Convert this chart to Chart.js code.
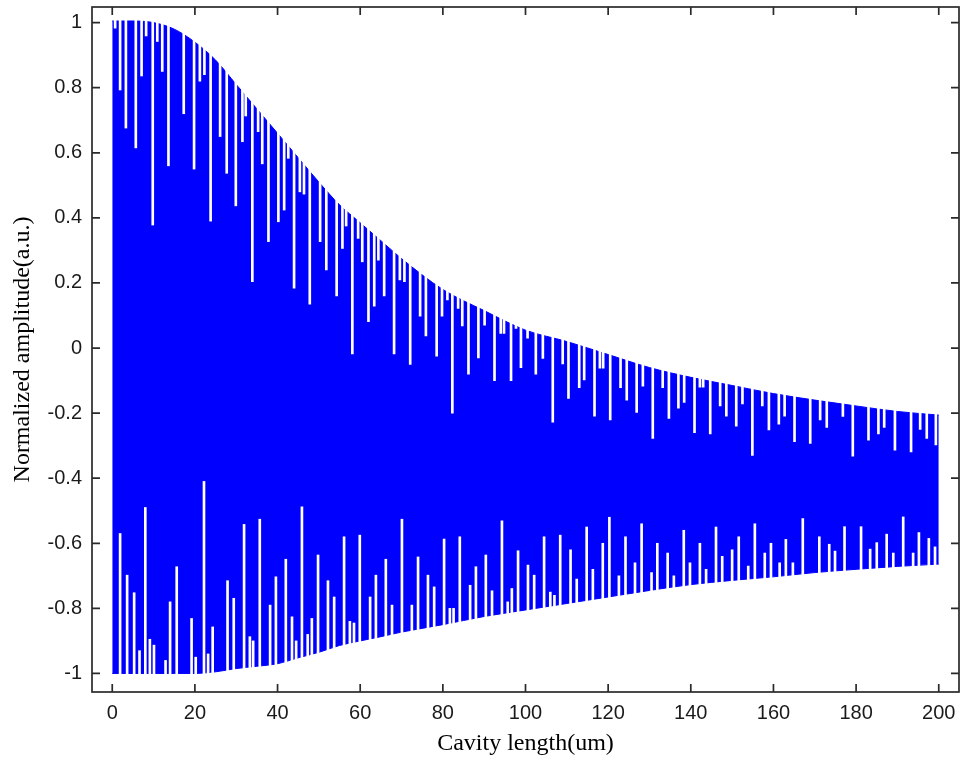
<!DOCTYPE html>
<html>
<head>
<meta charset="utf-8">
<script src="https://cdn.jsdelivr.net/npm/chart.js@4.4.1/dist/chart.umd.min.js"></script>
<style>
  html, body { margin: 0; padding: 0; background: #fff; }
  #wrap { width: 960px; height: 761px; }
</style>
</head>
<body>
<div id="wrap"><canvas id="myChart" width="960" height="761"></canvas></div>
<script>
// envelope of the fast oscillation
var envX = [0, 5, 10, 15, 20, 25, 30, 35, 40, 45, 50, 55, 60, 65, 70, 80, 90, 100, 110, 120, 130, 140, 150, 160, 170, 180, 190, 200];
var upperEnv = [1.005, 1.005, 1.0, 0.98, 0.94, 0.885, 0.81, 0.735, 0.66, 0.585, 0.51, 0.44, 0.385, 0.33, 0.275, 0.18, 0.115, 0.055, 0.02, -0.02, -0.06, -0.09, -0.115, -0.14, -0.16, -0.178, -0.195, -0.206];
var lowerEnv = [-1.0, -1.0, -1.0, -1.0, -1.0, -0.995, -0.985, -0.978, -0.97, -0.952, -0.935, -0.914, -0.9, -0.887, -0.873, -0.85, -0.825, -0.805, -0.785, -0.765, -0.745, -0.727, -0.714, -0.703, -0.69, -0.68, -0.671, -0.664];

// white gaps hanging down from the upper edge: position and lowest value
var topGapX = [0.7, 1.9, 3.3, 5.7, 7.1, 8.2, 9.8, 10.9, 12.1, 13.6, 17.3, 19.8, 21.2, 22.3, 23.8, 26.1, 27.7, 29.9, 31.5, 32.3, 33.9, 35.3, 36.3, 37.8, 40.2, 41.6, 42.6, 44.0, 45.4, 46.4, 47.8, 50.3, 51.8, 54.3, 55.7, 56.6, 58.1, 59.5, 60.5, 62.0, 63.4, 64.4, 65.8, 68.2, 69.6, 70.7, 72.1, 74.5, 75.9, 78.5, 79.8, 81.1, 82.3, 83.7, 84.7, 86.2, 88.6, 90.1, 92.5, 94.0, 94.8, 96.5, 97.7, 98.9, 100.5, 102.5, 104.2, 106.6, 109, 110.4, 113, 114.2, 116.7, 118, 118.8, 120.5, 123, 124.5, 126.9, 128.4, 130.8, 133.2, 134.7, 137, 138.4, 140.9, 142.2, 143.0, 144.7, 147.1, 148.6, 151, 152.5, 154.9, 157.3, 158.9, 161.3, 162.7, 165.1, 168.9, 171.3, 172.9, 176.8, 179.2, 183, 185.4, 186.8, 189.4, 193.3, 195.5, 197.1, 199.3];
var topGapTip = [0.983, 0.793, 0.676, 0.615, 0.836, 0.959, 0.378, 0.942, 0.85, 0.56, 0.72, 0.55, 0.82, 0.84, 0.39, 0.65, 0.537, 0.437, 0.634, 0.713, 0.204, 0.665, 0.566, 0.327, 0.388, 0.424, 0.583, 0.184, 0.48, 0.473, 0.135, 0.327, 0.24, 0.16, 0.306, 0.375, -0.018, 0.337, 0.265, 0.081, 0.129, 0.27, 0.16, -0.018, 0.209, 0.204, -0.05, 0.098, 0.037, -0.025, 0.098, 0.148, -0.2, 0.122, 0.068, -0.08, -0.03, 0.07, -0.1, 0.045, 0.045, -0.1, 0.06, -0.06, 0.03, -0.08, -0.032, -0.228, -0.049, -0.155, -0.122, -0.098, -0.209, -0.062, -0.062, -0.221, -0.122, -0.16, -0.198, -0.117, -0.278, -0.122, -0.216, -0.185, -0.167, -0.26, -0.12, -0.12, -0.264, -0.178, -0.209, -0.24, -0.172, -0.33, -0.178, -0.252, -0.234, -0.209, -0.288, -0.293, -0.221, -0.244, -0.21, -0.332, -0.283, -0.264, -0.244, -0.314, -0.319, -0.25, -0.278, -0.298];

// white gaps rising from the lower edge: position and highest value
var botGapX = [1.9, 3.6, 5.3, 6.6, 8.0, 9.1, 10.1, 12.9, 14.0, 15.6, 19.2, 20.2, 22.2, 23.2, 24.3, 27.9, 29.4, 31.9, 33.3, 34.1, 35.7, 38.2, 39.6, 42, 43.5, 44.5, 45.9, 47.3, 48.3, 49.8, 52.2, 53.7, 56.1, 57.5, 58.5, 59.9, 62.4, 63.8, 66.2, 67.7, 70.1, 72.5, 74, 76.4, 77.9, 80.3, 81.7, 82.6, 84.1, 86.6, 88, 90.4, 91.9, 94.3, 95.7, 96.7, 98.2, 100.6, 102.1, 104.5, 106, 107, 108.4, 110.9, 112.4, 114.8, 116.3, 118.7, 120.3, 122.6, 124.2, 126.5, 128.1, 130.5, 131.9, 134.4, 135.9, 138.3, 139.8, 142.2, 143.7, 146.1, 147.6, 150.0, 151.6, 153.9, 155.5, 157.9, 159.4, 161.5, 163, 164.7, 167.1, 171.1, 173.5, 174.9, 177.2, 181.2, 183.4, 185, 187.4, 189, 191.4, 193.8, 195.2, 197.6, 199.1];
var botGapTip = [-0.57, -0.698, -0.752, -0.93, -0.49, -0.895, -0.913, -0.96, -0.78, -0.672, -0.831, -0.95, -0.41, -0.94, -0.857, -0.715, -0.769, -0.542, -0.887, -0.9, -0.526, -0.79, -0.703, -0.649, -0.826, -0.9, -0.488, -0.88, -0.831, -0.636, -0.715, -0.765, -0.58, -0.84, -0.845, -0.575, -0.765, -0.698, -0.649, -0.79, -0.526, -0.79, -0.642, -0.698, -0.734, -0.587, -0.8, -0.8, -0.58, -0.729, -0.672, -0.636, -0.746, -0.531, -0.78, -0.739, -0.623, -0.667, -0.698, -0.58, -0.75, -0.76, -0.575, -0.62, -0.71, -0.55, -0.68, -0.6, -0.52, -0.7, -0.58, -0.66, -0.54, -0.69, -0.6, -0.63, -0.7, -0.56, -0.66, -0.6, -0.68, -0.55, -0.64, -0.62, -0.58, -0.67, -0.54, -0.63, -0.6, -0.66, -0.588, -0.66, -0.524, -0.58, -0.603, -0.624, -0.549, -0.549, -0.618, -0.598, -0.572, -0.63, -0.519, -0.63, -0.567, -0.585, -0.611];

var xTicks = [0, 20, 40, 60, 80, 100, 120, 140, 160, 180, 200];
var yTicks = [-1, -0.8, -0.6, -0.4, -0.2, 0, 0.2, 0.4, 0.6, 0.8, 1];

var blue = '#0000ff';

function pairs(xs, ys) {
    return xs.map(function (x, i) { return { x: x, y: ys[i] }; });
}

// keep the plot box where the original has it
function fixBox(size) {
    return function (s) {
        if (s.isHorizontal()) s.height = size; else s.width = size;
        s.paddingTop = 0; s.paddingBottom = 0;
        s.paddingLeft = 0; s.paddingRight = 0;
    };
}

// box with inward ticks on all four sides, like the original figure
var framePlugin = {
    id: 'frame',
    afterDatasetsDraw: function (chart) {
        var ctx = chart.ctx;
        var a = chart.chartArea;
        var xs = chart.scales.x;
        var ys = chart.scales.y;
        var len = 8;
        ctx.save();
        ctx.strokeStyle = '#2a2a2a';
        ctx.lineWidth = 1.7;
        ctx.strokeRect(a.left, a.top, a.right - a.left, a.bottom - a.top);
        ctx.beginPath();
        xTicks.forEach(function (v) {
            var p = xs.getPixelForValue(v);
            ctx.moveTo(p, a.bottom); ctx.lineTo(p, a.bottom - len);
            ctx.moveTo(p, a.top); ctx.lineTo(p, a.top + len);
        });
        yTicks.forEach(function (v) {
            var p = ys.getPixelForValue(v);
            ctx.moveTo(a.left, p); ctx.lineTo(a.left + len, p);
            ctx.moveTo(a.right, p); ctx.lineTo(a.right - len, p);
        });
        ctx.stroke();
        ctx.restore();
    }
};

var ctx = document.getElementById('myChart').getContext('2d');
var chart = new Chart(ctx, {
    type: 'line',
    data: {
        datasets: [
            {
                type: 'line',
                label: 'lower',
                data: pairs(envX, lowerEnv),
                borderColor: blue,
                borderWidth: 1,
                pointRadius: 0,
                cubicInterpolationMode: 'monotone',
                fill: false,
                order: 2
            },
            {
                type: 'line',
                label: 'upper',
                data: pairs(envX, upperEnv),
                borderColor: blue,
                backgroundColor: blue,
                borderWidth: 1,
                pointRadius: 0,
                cubicInterpolationMode: 'monotone',
                fill: '-1',
                order: 2
            },
            {
                type: 'bar',
                label: 'top gaps',
                data: topGapX.map(function (x, i) { return { x: x, y: [topGapTip[i], 1.04] }; }),
                backgroundColor: '#ffffff',
                borderWidth: 0,
                barThickness: 2,
                grouped: false,
                order: 1
            },
            {
                type: 'bar',
                label: 'bottom gaps',
                data: botGapX.map(function (x, i) { return { x: x, y: [-1.05, botGapTip[i]] }; }),
                backgroundColor: '#ffffff',
                borderWidth: 0,
                barThickness: 2,
                grouped: false,
                order: 1
            }
        ]
    },
    options: {
        responsive: false,
        animation: false,
        layout: { padding: { top: 7, right: 1, left: 0, bottom: 0 } },
        plugins: {
            legend: { display: false },
            tooltip: { enabled: false }
        },
        scales: {
            x: {
                type: 'linear',
                min: -4.9,
                max: 204.9,
                offset: false,
                afterBuildTicks: function (s) { s.ticks = xTicks.map(function (v) { return { value: v }; }); },
                afterFit: fixBox(69),
                grid: { display: false, drawTicks: false, offset: false },
                border: { display: false },
                ticks: {
                    padding: 9,
                    color: '#1a1a1a',
                    maxRotation: 0,
                    autoSkip: false,
                    font: { family: 'Liberation Sans', size: 20 },
                    callback: function (v) { return String(v); }
                },
                title: {
                    display: true,
                    text: 'Cavity length(um)',
                    color: '#000',
                    font: { family: 'Liberation Serif', size: 24 },
                    padding: { top: 0, bottom: 3 }
                }
            },
            y: {
                min: -1.057,
                max: 1.048,
                afterBuildTicks: function (s) { s.ticks = yTicks.map(function (v) { return { value: v }; }); },
                afterFit: fixBox(92),
                grid: { display: false, drawTicks: false },
                border: { display: false },
                ticks: {
                    padding: 10,
                    color: '#1a1a1a',
                    autoSkip: false,
                    font: { family: 'Liberation Sans', size: 20 },
                    callback: function (v) { return String(v); }
                },
                title: {
                    display: true,
                    text: 'Normalized amplitude(a.u.)',
                    color: '#000',
                    font: { family: 'Liberation Serif', size: 24 },
                    padding: { top: 8, bottom: 0 }
                }
            }
        }
    },
    plugins: [framePlugin]
});
</script>
</body>
</html>
